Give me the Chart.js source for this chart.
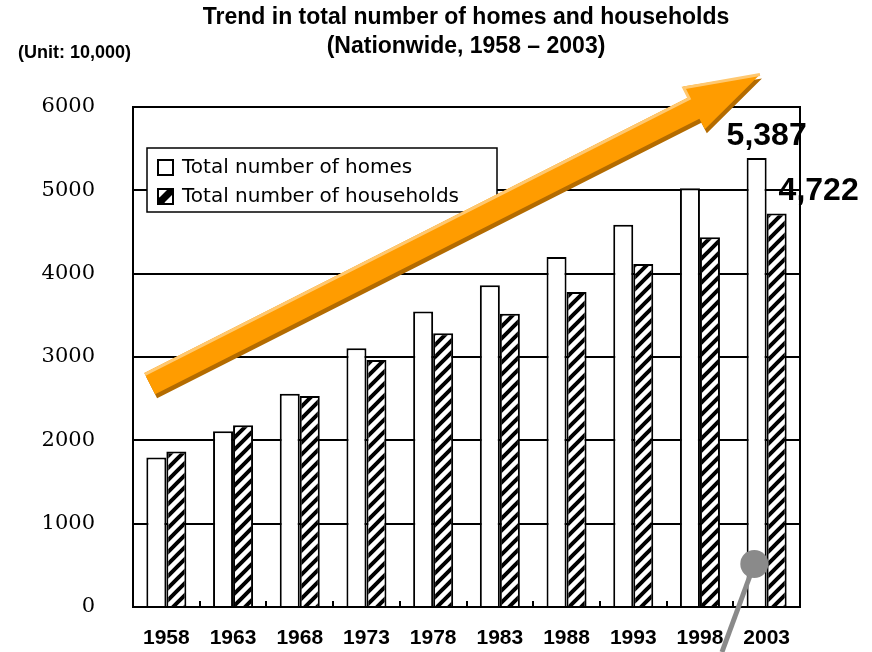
<!DOCTYPE html>
<html>
<head>
<meta charset="utf-8">
<script src="https://cdn.jsdelivr.net/npm/chart.js@4.4.1/dist/chart.umd.min.js"></script>
<style>
  html, body { margin: 0; padding: 0; background: #fff; }
  #wrap { width: 872px; height: 652px; }
</style>
</head>
<body>
<div id="wrap"><canvas id="chart1"></canvas></div>
<script>
const years = ["1958", "1963", "1968", "1973", "1978", "1983", "1988", "1993", "1998", "2003"];
const homes = [1793, 2109, 2559, 3106, 3545, 3861, 4201, 4588, 5025, 5387];
const households = [1865, 2182, 2532, 2965, 3284, 3520, 3781, 4116, 4436, 4722];
const yTicks = [0, 1000, 2000, 3000, 4000, 5000, 6000];

const titleLines = ["Trend in total number of homes and households", "(Nationwide, 1958 \u2013 2003)"];
const unitText = "(Unit: 10,000)";

// hatch fill for the households bars
function makeHatch() {
  const c = document.createElement('canvas');
  c.width = 12;
  c.height = 12;
  const g = c.getContext('2d');
  g.fillStyle = '#fff';
  g.fillRect(0, 0, 12, 12);
  g.strokeStyle = '#000';
  g.lineWidth = 4;
  g.beginPath();
  g.moveTo(-3, 15); g.lineTo(15, -3);
  g.moveTo(-9, 9); g.lineTo(9, -9);
  g.moveTo(3, 21); g.lineTo(21, 3);
  g.stroke();
  return g.createPattern(c, 'repeat');
}
const hatch = makeHatch();

// the big rising arrow, in axis units (category index, value)
const arrowFrom = { x: -0.25, y: 2680 };
const arrowTo = { x: 8.9, y: 6390 };
// grey pointer pin
const pinHead = { x: 8.815, y: 516 };
const pinTail = { x: 8.33, y: -540 };

const decorations = {
  id: 'decorations',
  afterDatasetsDraw(chart) {
    const ctx = chart.ctx;
    const area = chart.chartArea;
    const xs = chart.scales.x;
    const ys = chart.scales.y;

    ctx.save();
    // right border of plot box
    ctx.strokeStyle = '#000';
    ctx.lineWidth = 2;
    ctx.beginPath();
    ctx.moveTo(area.right, area.top - 1);
    ctx.lineTo(area.right, area.bottom + 1);
    ctx.stroke();

    // small inner ticks between year groups
    const step = xs.getPixelForValue(1) - xs.getPixelForValue(0);
    for (let i = 0; i < years.length - 1; i++) {
      const px = Math.round(xs.getPixelForValue(i) + step / 2);
      ctx.beginPath();
      ctx.moveTo(px, area.bottom);
      ctx.lineTo(px, area.bottom - 6);
      ctx.stroke();
    }

    // legend box
    const lx = 147, ly = 148, lw = 350, lh = 64;
    ctx.fillStyle = '#fff';
    ctx.fillRect(lx, ly, lw, lh);
    ctx.lineWidth = 1.5;
    ctx.strokeRect(lx, ly, lw, lh);
    ctx.lineWidth = 2;
    ctx.strokeRect(158, 160, 15, 15);
    ctx.fillStyle = '#fff';
    ctx.fillRect(158, 189, 15, 15);
    ctx.fillStyle = '#000';
    ctx.beginPath();
    ctx.moveTo(158, 204); ctx.lineTo(158, 196); ctx.lineTo(166, 204);
    ctx.closePath(); ctx.fill();
    ctx.beginPath();
    ctx.moveTo(163, 204); ctx.lineTo(173, 194); ctx.lineTo(173, 189); ctx.lineTo(168, 189);
    ctx.lineTo(158, 199); ctx.lineTo(158, 204);
    ctx.closePath(); ctx.fill();
    ctx.strokeRect(158, 189, 15, 15);
    ctx.font = '20px "DejaVu Sans"';
    ctx.textAlign = 'left';
    ctx.textBaseline = 'middle';
    ctx.fillText(chart.data.datasets[0].label, 182, 168);
    ctx.fillText(chart.data.datasets[1].label, 182, 197);

    // rising arrow
    const x0 = xs.getPixelForValue(arrowFrom.x), y0 = ys.getPixelForValue(arrowFrom.y);
    const x1 = xs.getPixelForValue(arrowTo.x), y1 = ys.getPixelForValue(arrowTo.y);
    const len = Math.hypot(x1 - x0, y1 - y0);
    const ux = (x1 - x0) / len, uy = (y1 - y0) / len;
    const nx = -uy, ny = ux;
    const half = 12, headHalf = 24, headLen = 74;
    const bx = x1 - ux * headLen, by = y1 - uy * headLen;
    const pts = [
      [x0 + nx * half, y0 + ny * half],
      [bx + nx * half, by + ny * half],
      [bx + nx * headHalf, by + ny * headHalf],
      [x1, y1],
      [bx - nx * headHalf, by - ny * headHalf],
      [bx - nx * half, by - ny * half],
      [x0 - nx * half, y0 - ny * half]
    ];
    const poly = (dx, dy) => {
      ctx.beginPath();
      pts.forEach((p, i) => i ? ctx.lineTo(p[0] + dx, p[1] + dy) : ctx.moveTo(p[0] + dx, p[1] + dy));
      ctx.closePath();
    };
    ctx.fillStyle = '#b36b00';
    poly(2, 4); ctx.fill();
    ctx.fillStyle = '#ff9c00';
    poly(0, 0); ctx.fill();
    // light upper edge
    ctx.strokeStyle = '#ffc870';
    ctx.lineWidth = 3;
    ctx.beginPath();
    ctx.moveTo(pts[6][0] + nx * 1.5, pts[6][1] + ny * 1.5);
    ctx.lineTo(pts[5][0] + nx * 1.5, pts[5][1] + ny * 1.5);
    ctx.lineTo(pts[4][0] + nx * 1.5, pts[4][1] + ny * 1.5);
    ctx.lineTo(x1, y1);
    ctx.stroke();

    // value labels for 2003
    const last = years.length - 1;
    ctx.fillStyle = '#000';
    ctx.font = 'bold 32px "Liberation Sans"';
    ctx.textAlign = 'center';
    ctx.textBaseline = 'middle';
    ctx.fillText(homes[last].toLocaleString('en-US'), xs.getPixelForValue(last), 136);
    ctx.fillText(households[last].toLocaleString('en-US'), xs.getPixelForValue(last) + 52, 191);

    // grey pointer
    const hx = xs.getPixelForValue(pinHead.x), hy = ys.getPixelForValue(pinHead.y);
    const tx = xs.getPixelForValue(pinTail.x), ty = ys.getPixelForValue(pinTail.y);
    ctx.strokeStyle = '#8a8a8a';
    ctx.lineWidth = 5;
    ctx.beginPath();
    ctx.moveTo(hx, hy);
    ctx.lineTo(tx, ty);
    ctx.stroke();
    ctx.fillStyle = '#8a8a8a';
    ctx.beginPath();
    ctx.arc(hx, hy, 14, 0, Math.PI * 2);
    ctx.fill();

    // titles
    ctx.fillStyle = '#000';
    ctx.font = 'bold 23px "Liberation Sans"';
    ctx.fillText(titleLines[0], 466, 18);
    ctx.fillText(titleLines[1], 466, 47);
    ctx.font = 'bold 18px "Liberation Sans"';
    ctx.textAlign = 'left';
    ctx.fillText(unitText, 18, 53);
    ctx.restore();
  }
};

const dataChart1 = {
  labels: years,
  datasets: [
    {
      label: "Total number of homes",
      data: homes,
      backgroundColor: "#ffffff",
      borderColor: "#000000",
      borderWidth: 2,
    },
    {
      label: "Total number of households",
      data: households,
      backgroundColor: hatch,
      borderColor: "#000000",
      borderWidth: 2,
    },
  ]
};

const configChart1 = {
  type: 'bar',
  data: dataChart1,
  plugins: [decorations],
  options: {
    responsive: true,
    maintainAspectRatio: false,
    animation: false,
    layout: {
      padding: { top: 107, right: 72, left: 0, bottom: 0 },
    },
    datasets: {
      bar: { categoryPercentage: 0.6, barPercentage: 1.0 },
    },
    plugins: {
      legend: { display: false },
      title: { display: false },
      tooltip: { enabled: false },
    },
    scales: {
      x: {
        afterFit: (scale) => { scale.height = 45; },
        grid: { display: false, drawTicks: false },
        border: { display: true, color: '#000', width: 2 },
        ticks: {
          color: '#000',
          padding: 19,
          font: { family: '"Liberation Sans"', size: 21, weight: 'bold' },
        },
      },
      y: {
        min: 0,
        max: 6000,
        afterFit: (scale) => {
          scale.width = 133;
          // tick padding would otherwise also pad the axis vertically
          scale.paddingTop = 0;
          scale.paddingBottom = 0;
        },
        afterBuildTicks: (scale) => { scale.ticks = yTicks.map(v => ({ value: v })); },
        grid: { color: '#000', lineWidth: 2, drawTicks: false },
        border: { display: true, color: '#000', width: 2 },
        ticks: {
          color: '#000',
          padding: 38,
          font: { family: '"DejaVu Serif"', size: 21 },
          callback: (v) => String(v),
        },
      },
    },
  },
};

const myChart1 = new Chart(document.getElementById('chart1'), configChart1);
</script>
</body>
</html>
